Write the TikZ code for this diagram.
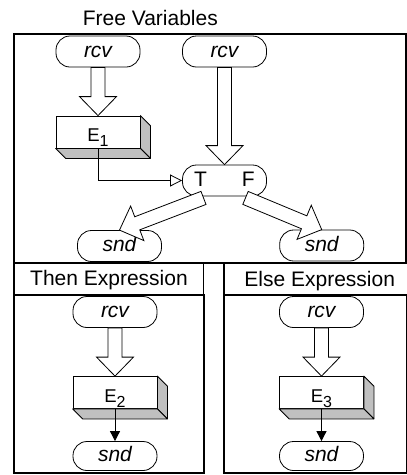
\documentclass[tikz,border=0pt]{standalone}
\usepackage{fontspec}
\setmainfont{Liberation Sans}
\usetikzlibrary{calc,arrows.meta}

\definecolor{boxgray}{RGB}{192,192,192}

% subscripted expression label
\newcommand\Esub[1]{{\fontsize{18.5}{20}\selectfont E\raisebox{-5pt}{\fontsize{16}{18}\selectfont #1}}}

% shaded right and bottom faces of an expression block
\newcommand\boxdepth[1]{%
  \filldraw[fill=boxgray, line width=0.8pt, line join=round]
    (#1.north east) -- ++(10,10) -- ($(#1.south east)+(10,10)$) -- (#1.south east) -- cycle;
  \filldraw[fill=boxgray, line width=0.8pt, line join=round]
    (#1.south west) -- (#1.south east) -- ++(10,10) -- ($(#1.south west)+(10,10)$) -- cycle;
}

% hollow block arrow from #1 (tail centre) to #2 (tip)
\newcommand\blockarrow[2]{%
  \coordinate (ba-h) at ($(#2)!19pt!(#1)$);
  \draw[hollow]
    ($(#1)!7pt!90:(#2)$) -- ($(ba-h)!7pt!-90:(#1)$) -- ($(ba-h)!18.5pt!-90:(#1)$)
    -- (#2) -- ($(ba-h)!18.5pt!90:(#1)$) -- ($(ba-h)!7pt!90:(#1)$)
    -- ($(#1)!7pt!-90:(#2)$) -- cycle;
}

\tikzset{
  term/.style={draw, line width=0.8pt, rounded corners=14pt, fill=white,
    minimum width=84pt, minimum height=31pt, inner sep=0pt,
    font=\fontsize{21}{24}\selectfont\itshape, text height=13pt, text depth=2pt},
  exprbox/.style={draw, line width=0.8pt, fill=white,
    minimum width=84pt, minimum height=32pt, inner sep=0pt,
    text height=19pt, text depth=0pt},
  boxline/.style={line width=2pt},
  headline/.style={line width=1.1pt},
  headtext/.style={font=\fontsize{21}{24}\selectfont, anchor=base, inner sep=0pt},
  hollow/.style={draw, line width=0.8pt, fill=white, line join=miter},
  flow/.style={line width=0.8pt}
}

\begin{document}
\begin{tikzpicture}[x=1pt, y=-1pt]
\useasboundingbox (0,0) rectangle (407,475);
\fill[white] (0,0) rectangle (407,475);

% section frames
\draw[boxline] (13.5,33.5) rectangle (405.5,262.5);
\draw[headline] (14,263) rectangle (203.5,294.5);
\draw[boxline] (14,295) rectangle (203.5,472.5);
\draw[headline] (224,263) rectangle (407.5,294.5);
\draw[boxline] (224,295) rectangle (406.5,472.5);

% section titles
\node[headtext] (title) at (150.3,25) {Free Variables};
\node[headtext] (thenhd) at (109,285.7) {Then Expression};
\node[headtext] (elsehd) at (319.7,286) {Else Expression};

% free variables part
\node[term] (rcv1) at (98,51.5) {rcv};
\node[term] (rcv2) at (224.5,51.5) {rcv};
\node[exprbox] (e1) at (98,132) {\Esub{1}};
\boxdepth{e1}
\node[term, font=\fontsize{21}{24}\selectfont] (tf) at (224.5,180.5) {T\hspace{35pt}F};
\node[term] (snd1) at (119.5,246) {snd};
\node[term] (snd2) at (321.7,245.5) {snd};

% then part
\node[term] (rcv3) at (115,312) {rcv};
\node[exprbox] (e2) at (115,392.5) {\Esub{2}};
\boxdepth{e2}
\node[term, minimum height=29pt] (snd3) at (115,456) {snd};

% else part
\node[term] (rcv4) at (321.5,312) {rcv};
\node[exprbox] (e3) at (321.5,392.5) {\Esub{3}};
\boxdepth{e3}
\node[term, minimum height=29pt] (snd4) at (321.5,456) {snd};

% thin connectors
\draw[flow, -{Triangle[open, length=12pt, width=12pt]}] (e1.south) |- (tf.west);
\draw[flow, -{Triangle[length=10pt, width=10pt]}] (e2.south) -- (snd3.north);
\draw[flow, -{Triangle[length=10pt, width=10pt]}] (e3.south) -- (snd4.north);

% block arrows
\coordinate (tf-t) at ($(tf.south)+(-21,1.5)$);
\coordinate (tf-f) at ($(tf.south)+(21,1.5)$);
\blockarrow{rcv1.south}{e1.north}
\blockarrow{rcv2.south}{tf.north}
\blockarrow{tf-t}{snd1.north}
\blockarrow{tf-f}{snd2.north}
\blockarrow{rcv3.south}{e2.north}
\blockarrow{rcv4.south}{e3.north}
\end{tikzpicture}
\end{document}
